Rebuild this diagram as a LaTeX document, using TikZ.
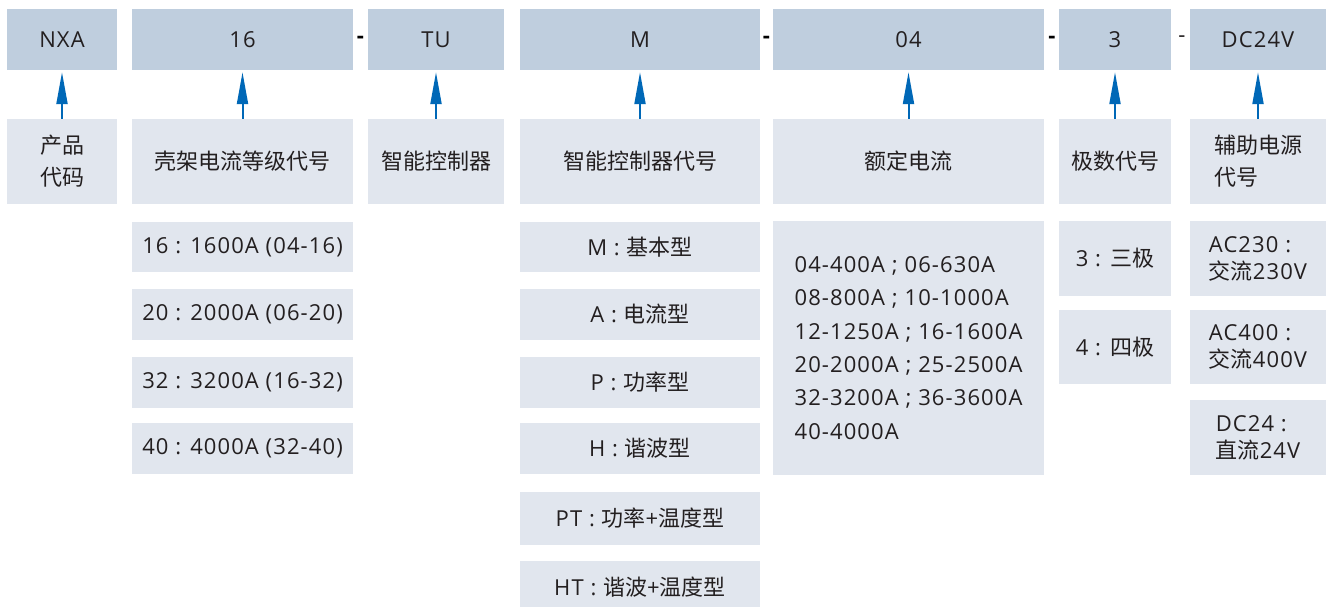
\documentclass[tikz,border=0pt]{standalone}
\usepackage{fontspec}
\setmainfont[LetterSpace=5]{Open Sans}
\newfontfamily\cjk{Noto Sans CJK SC}
\usetikzlibrary{arrows.meta}
\definecolor{topc}{RGB}{191,206,222}
\definecolor{subc}{RGB}{225,230,238}
\definecolor{arrc}{RGB}{0,104,183}
\definecolor{txtc}{RGB}{35,31,32}
\newcommand\zhtext[1]{{\cjk #1}}
\begin{document}
\begin{tikzpicture}[x=1pt,y=-1pt,
  box/.style={rectangle, inner sep=0pt, text=txtc, font=\fontsize{22}{32}\selectfont},
  topbox/.style={box, fill=topc, minimum height=61pt},
  midbox/.style={box, fill=subc, minimum height=85pt},
  subbox/.style={box, fill=subc},
  dashmark/.style={text=black, inner sep=0pt, font=\fontsize{22}{26}\selectfont\bfseries},
  arr/.style={arrc, line width=2pt, -{Triangle[length=32pt,width=11pt]}, shorten >=2pt}]
\useasboundingbox (0,0) rectangle (1326,607);
\fill[white] (0,0) rectangle (1326,607);
% top row
\node[topbox, minimum width=110pt] (nxa) at (62,39.5) {NXA};
\node[topbox, minimum width=221pt] (t16) at (242.5,39.5) {16};
\node[topbox, minimum width=136pt] (tu) at (436,39.5) {TU};
\node[topbox, minimum width=240pt] (tm) at (640,39.5) {M};
\node[topbox, minimum width=271pt] (t04) at (908.5,39.5) {04};
\node[topbox, minimum width=112pt] (t3) at (1115,39.5) {3};
\node[topbox, minimum width=136pt] (tdc) at (1258,39.5) {DC24V};
% dashes
\node[dashmark] (d1) at (360.5,39.5) {-};
\node[dashmark] (d2) at (766.5,39.5) {-};
\node[dashmark] (d3) at (1052,39.5) {-};
\node[dashmark, font=\fontsize{22}{26}\selectfont, text=txtc] (d4) at (1182,39) {-};
% second row
\node[midbox, minimum width=110pt, align=center] (b1) at (62,161.5) {\zhtext{产品}\\\zhtext{代码}};
\node[midbox, minimum width=221pt] (b2) at (242.5,161.5) {\zhtext{壳架电流等级代号}};
\node[midbox, minimum width=136pt] (b3) at (436,161.5) {\zhtext{智能控制器}};
\node[midbox, minimum width=240pt] (b4) at (640,161.5) {\zhtext{智能控制器代号}};
\node[midbox, minimum width=271pt] (b5) at (908.5,161.5) {\zhtext{额定电流}};
\node[midbox, minimum width=112pt] (b6) at (1115,161.5) {\zhtext{极数代号}};
\node[midbox, minimum width=136pt, align=left] (b7) at (1258,161.5) {\zhtext{辅助电源}\\\zhtext{代号}};
% arrows
\draw[arr] (b1.north) -- (nxa.south);
\draw[arr] (b2.north) -- (t16.south);
\draw[arr] (b3.north) -- (tu.south);
\draw[arr] (b4.north) -- (tm.south);
\draw[arr] (b5.north) -- (t04.south);
\draw[arr] (b6.north) -- (t3.south);
\draw[arr] (b7.north) -- (tdc.south);
% frame column
\node[subbox, minimum width=221pt, minimum height=50pt] (f1) at (242.5,247) {16 : 1600A (04-16)};
\node[subbox, minimum width=221pt, minimum height=51pt] (f2) at (242.5,314.5) {20 : 2000A (06-20)};
\node[subbox, minimum width=221pt, minimum height=51pt] (f3) at (242.5,382.5) {32 : 3200A (16-32)};
\node[subbox, minimum width=221pt, minimum height=51pt] (f4) at (242.5,448.5) {40 : 4000A (32-40)};
% controller column
\node[subbox, minimum width=240pt, minimum height=50pt] (c1) at (640,247) {M : \zhtext{基本型}};
\node[subbox, minimum width=240pt, minimum height=51pt] (c2) at (640,314.5) {A : \zhtext{电流型}};
\node[subbox, minimum width=240pt, minimum height=51pt] (c3) at (640,382.5) {P : \zhtext{功率型}};
\node[subbox, minimum width=240pt, minimum height=51pt] (c4) at (640,448.5) {H : \zhtext{谐波型}};
\node[subbox, minimum width=240pt, minimum height=53pt] (c5) at (640,518.5) {PT : \zhtext{功率}+\zhtext{温度型}};
\node[subbox, minimum width=240pt, minimum height=52pt] (c6) at (640,587) {HT : \zhtext{谐波}+\zhtext{温度型}};
% rated current
\node[subbox, minimum width=271pt, minimum height=254pt, align=left, font=\fontsize{22}{33.4}\selectfont] (r1) at (908.5,348) {04-400A ; 06-630A\\08-800A ; 10-1000A\\12-1250A ; 16-1600A\\20-2000A ; 25-2500A\\32-3200A ; 36-3600A\\40-4000A};
% poles
\node[subbox, minimum width=112pt, minimum height=75pt] (p1) at (1115,258.5) {3 : \zhtext{三极}};
\node[subbox, minimum width=112pt, minimum height=74pt] (p2) at (1115,347) {4 : \zhtext{四极}};
% aux supply
\node[subbox, minimum width=136pt, minimum height=75pt, align=left, font=\fontsize{22}{27}\selectfont] (s1) at (1258,258.5) {AC230 :\\\zhtext{交流}230V};
\node[subbox, minimum width=136pt, minimum height=74pt, align=left, font=\fontsize{22}{27}\selectfont] (s2) at (1258,347) {AC400 :\\\zhtext{交流}400V};
\node[subbox, minimum width=136pt, minimum height=75pt, align=left, font=\fontsize{22}{27}\selectfont] (s3) at (1258,437.5) {DC24 :\\\zhtext{直流}24V};
\end{tikzpicture}
\end{document}
